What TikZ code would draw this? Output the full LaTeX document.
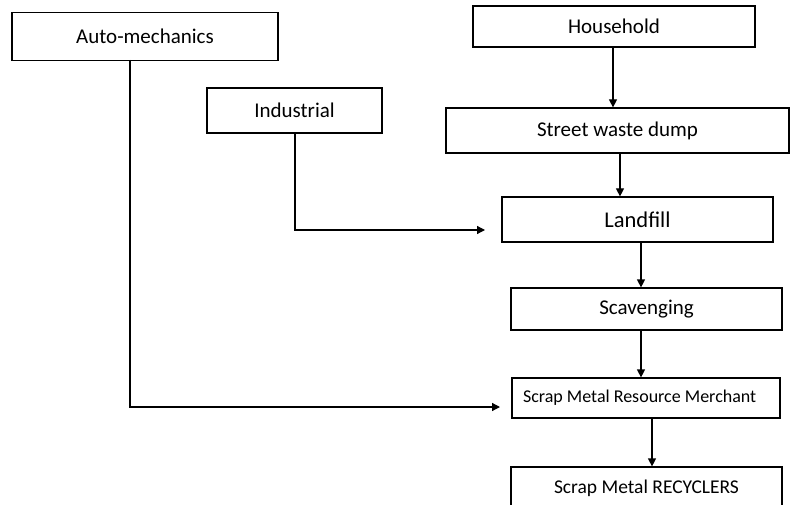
\documentclass[tikz,border=0pt]{standalone}
\usepackage{fontspec}
\setmainfont{Carlito}
\usetikzlibrary{arrows.meta}
\begin{document}
\begin{tikzpicture}[x=1pt,y=-1pt,
  box/.style={draw, line width=1.2pt, inner sep=0pt, font=\fontsize{21}{25}\selectfont},
  arr/.style={line width=1.2pt, -{Triangle[length=8pt,width=8pt]}}]
\clip (0,0) rectangle (790,505);
\node[box, minimum width=266pt, minimum height=48pt] (auto) at (145,36.5) {Auto-mechanics};
\node[box, minimum width=175pt, minimum height=45pt] (ind) at (294.5,110.5) {Industrial};
\node[box, minimum width=282pt, minimum height=41pt] (house) at (614,26.5) {Household};
\node[box, minimum width=343pt, minimum height=45pt] (street) at (617.5,130.5) {Street waste dump};
\node[box, minimum width=271pt, minimum height=45pt, font=\fontsize{22.5}{27}\selectfont] (land) at (637.5,219.5) {Landfill};
\node[box, minimum width=271pt, minimum height=42pt] (scav) at (646.5,309) {Scavenging};
\node[box, minimum width=268pt, minimum height=40pt, inner xsep=11pt, text width=246pt, align=flush left, font=\fontsize{18}{22}\selectfont] (merch) at (646,398) {Scrap Metal Resource Merchant};
\node[box, minimum width=271pt, minimum height=42pt, font=\fontsize{19.5}{23}\selectfont] (recyc) at (646.5,488) {Scrap Metal RECYCLERS};
\draw[arr] ([xshift=-1pt]house.south) -- ([xshift=-1pt]house.south |- street.north);
\draw[arr] ([xshift=2.5pt]street.south) -- ([xshift=2.5pt]street.south |- land.north);
\draw[arr] ([xshift=3.5pt]land.south) -- ([xshift=3.5pt]land.south |- scav.north);
\draw[arr] ([xshift=-5.5pt]scav.south) -- ([xshift=-5.5pt]scav.south |- merch.north);
\draw[arr] ([xshift=6pt]merch.south) -- ([xshift=6pt]merch.south |- recyc.north);
\coordinate (indtop) at (295,133);
\coordinate (indend) at (485,230);
\draw[arr] (indtop) |- (indend);
\coordinate (autotop) at (130,60);
\coordinate (autoend) at (500,407);
\draw[arr] (autotop) |- (autoend);
\end{tikzpicture}
\end{document}
